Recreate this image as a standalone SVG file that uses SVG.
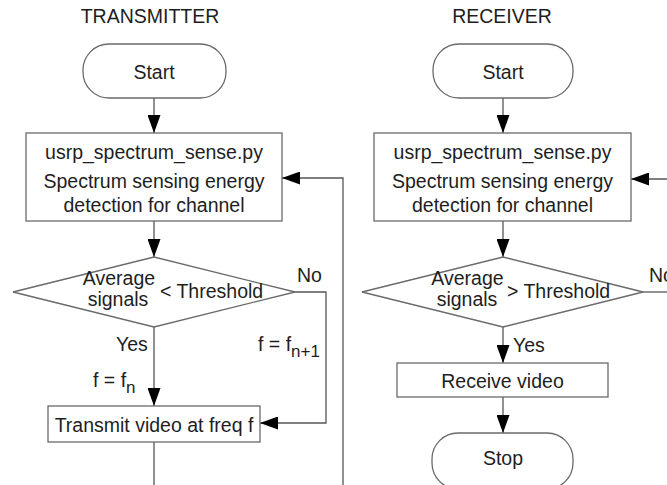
<svg xmlns="http://www.w3.org/2000/svg" width="667" height="485" viewBox="0 0 667 485">
<style>
.n{fill:#fff;stroke:#6a6a6a;stroke-width:1.3}
.c{fill:none;stroke:#555;stroke-width:1.3}
text{font-family:"Liberation Sans",Arial,sans-serif;font-size:19.5px;fill:#1e1e1e}
.m{text-anchor:middle}
.s{font-size:17px}
</style>
<defs>
<marker id="ah" markerUnits="userSpaceOnUse" markerWidth="18" markerHeight="13" refX="18" refY="6.5" orient="auto">
<path d="M0,0 L18,6.5 L0,13 z" fill="#000"/>
</marker>
</defs>
<rect width="667" height="485" fill="#fff"/>
<text class="m" x="150" y="23">TRANSMITTER</text>
<text class="m" x="502" y="23">RECEIVER</text>
<g id="connectors">
<line class="c" x1="154" y1="98" x2="154" y2="133" marker-end="url(#ah)"/>
<line class="c" x1="154" y1="221" x2="154" y2="257" marker-end="url(#ah)"/>
<line class="c" x1="154" y1="327" x2="154" y2="406" marker-end="url(#ah)"/>
<polyline class="c" points="295,292 326,292 326,423 260,423" marker-end="url(#ah)"/>
<line class="c" x1="154" y1="442" x2="154" y2="490"/>
<polyline class="c" points="343,490 343,178 282,178" marker-end="url(#ah)"/>
<line class="c" x1="503" y1="98" x2="503" y2="133" marker-end="url(#ah)"/>
<line class="c" x1="503" y1="221" x2="503" y2="257" marker-end="url(#ah)"/>
<line class="c" x1="670" y1="179" x2="631" y2="179" marker-end="url(#ah)"/>
<line class="c" x1="643" y1="292" x2="670" y2="292"/>
<line class="c" x1="503" y1="327" x2="503" y2="363" marker-end="url(#ah)"/>
<line class="c" x1="503" y1="397" x2="503" y2="433" marker-end="url(#ah)"/>
<text x="297" y="282">No</text>
<text x="116" y="351">Yes</text>
<text x="93" y="387">f = f<tspan class="s" dy="6">n</tspan></text>
<text x="258" y="351">f = f<tspan class="s" dy="6">n+1</tspan></text>
<text x="649" y="282">No</text>
<text x="513" y="352">Yes</text>
</g>
<g id="tx-start">
<rect class="n" x="83" y="44" width="143" height="54" rx="26"/>
<text class="m" x="154" y="79">Start</text>
</g>
<g id="tx-sense">
<rect class="n" x="26" y="133" width="256" height="88"/>
<text class="m" x="154" y="159">usrp_spectrum_sense.py</text>
<text class="m" x="154" y="188">Spectrum sensing energy</text>
<text class="m" x="154" y="212">detection for channel</text>
</g>
<g id="tx-decision">
<polygon class="n" points="13,292 154,257 295,292 154,327"/>
<text class="m" x="119" y="285">Average</text>
<text class="m" x="118" y="306">signals</text>
<text x="160" y="298">&lt; Threshold</text>
</g>
<g id="tx-transmit">
<rect class="n" x="48" y="406" width="212" height="36"/>
<text class="m" x="154" y="432">Transmit video at freq f</text>
</g>
<g id="rx-start">
<rect class="n" x="433" y="44" width="140" height="54" rx="26"/>
<text class="m" x="503" y="79">Start</text>
</g>
<g id="rx-sense">
<rect class="n" x="374" y="133" width="257" height="88"/>
<text class="m" x="502.5" y="159">usrp_spectrum_sense.py</text>
<text class="m" x="502.5" y="188">Spectrum sensing energy</text>
<text class="m" x="502.5" y="212">detection for channel</text>
</g>
<g id="rx-decision">
<polygon class="n" points="362,292 503,257 643,292 503,327"/>
<text class="m" x="467.5" y="285">Average</text>
<text class="m" x="467" y="306">signals</text>
<text x="507" y="298">&gt; Threshold</text>
</g>
<g id="rx-receive">
<rect class="n" x="397" y="363" width="211" height="34"/>
<text class="m" x="502.5" y="388">Receive video</text>
</g>
<g id="rx-stop">
<rect class="n" x="432" y="433" width="141" height="56" rx="26"/>
<text class="m" x="503" y="465">Stop</text>
</g>
</svg>
